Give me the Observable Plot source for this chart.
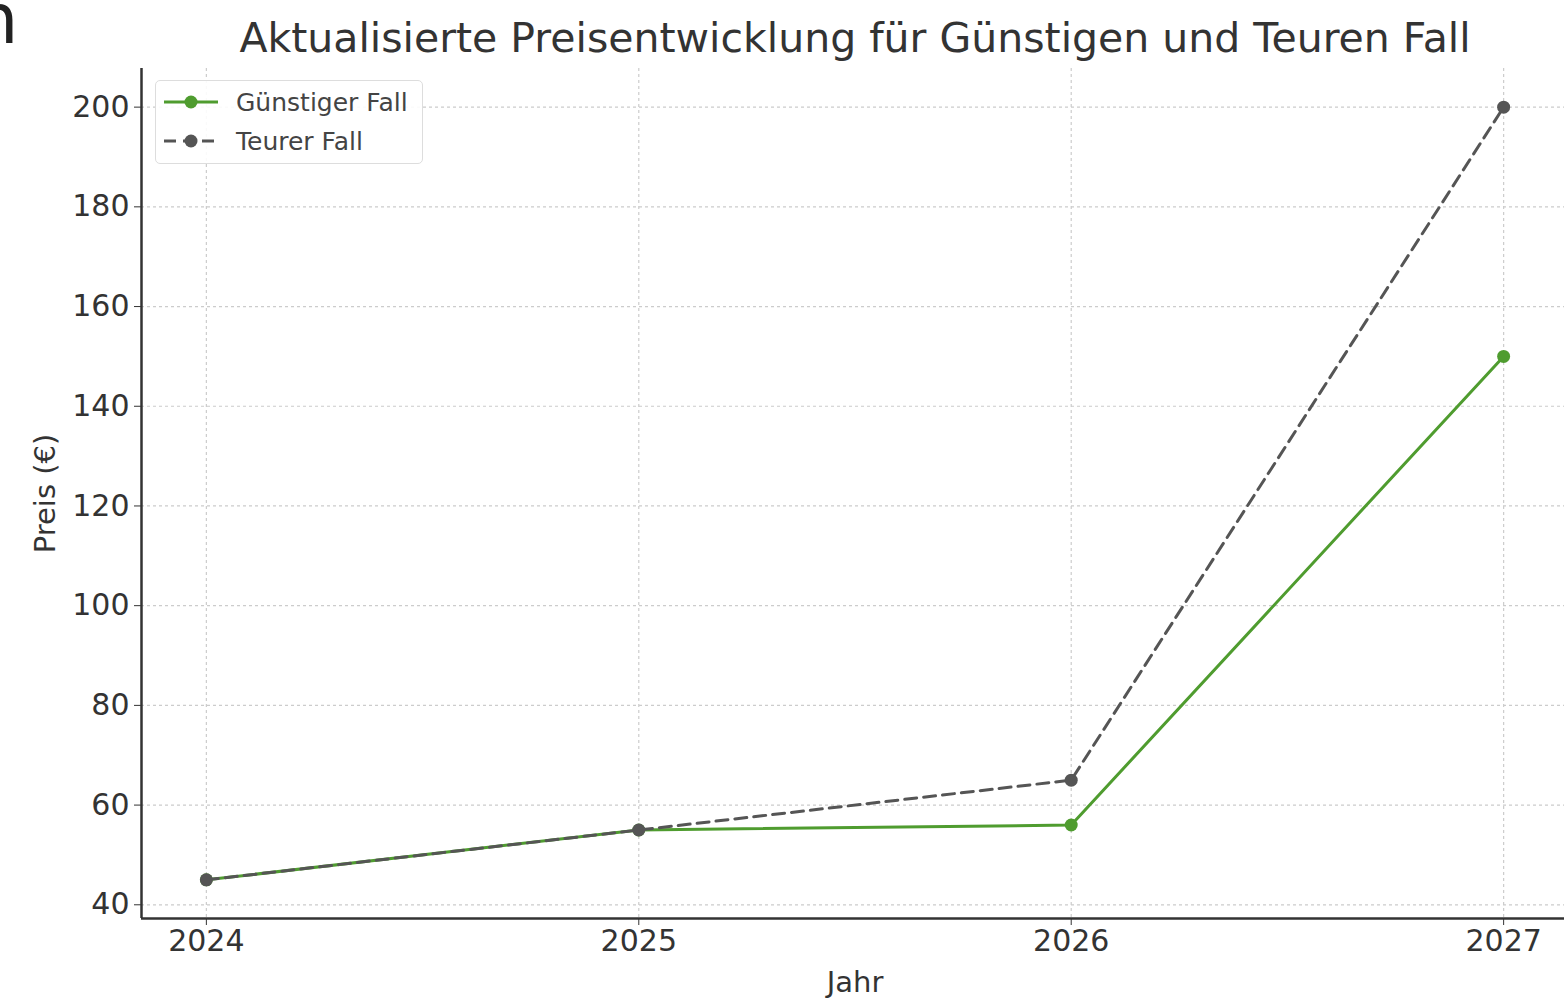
<!DOCTYPE html>
<html>
<head>
<meta charset="utf-8">
<script src="https://cdn.jsdelivr.net/npm/d3@7"></script>
<script src="https://cdn.jsdelivr.net/npm/@observablehq/plot@0.6"></script>
<style>
  html, body { margin: 0; padding: 0; background: #fff; }
  body { width: 1564px; height: 998px; overflow: hidden; position: relative; font-family: "DejaVu Sans", sans-serif; color: #333; }
  #frag { position: absolute; left: -26px; top: -16px; font-size: 70px; line-height: 1; color: #222; }
  #title { height: 60px; width: 1564px; position: relative; }
  #title span { position: absolute; left: 855px; top: 38px; transform: translate(-50%, -50%); font-size: 41px; white-space: nowrap; color: #333; }
  #legend { position: absolute; left: 155px; top: 80px; width: 268px; height: 84px; border: 1.5px solid #ddd; border-radius: 5px; background: rgba(255,255,255,0.9); box-sizing: border-box; }
  .row { position: absolute; left: 7px; height: 30px; display: flex; align-items: center; font-size: 25px; color: #444; }
  .row svg { margin-right: 17px; }
</style>
</head>
<body>
<div id="frag">n</div>
<div id="title"><span>Aktualisierte Preisentwicklung für Günstigen und Teuren Fall</span></div>
<div id="chart"></div>
<div id="legend">
  <div class="row" style="top:6px"><svg width="56" height="20"><line x1="1" y1="10" x2="55" y2="10" stroke="#4f9c2f" stroke-width="3"/><circle cx="28" cy="10" r="6.5" fill="#4f9c2f"/></svg>Günstiger Fall</div>
  <div class="row" style="top:45px"><svg width="56" height="20"><line x1="1" y1="10" x2="55" y2="10" stroke="#555" stroke-width="3" stroke-dasharray="12,7"/><circle cx="28" cy="10" r="6.5" fill="#555"/></svg>Teurer Fall</div>
</div>
<script>
const years = [2024, 2025, 2026, 2027];
const guenstig = [45, 55, 56, 150];
const teuer = [45, 55, 65, 200];
const yTicks = [40, 60, 80, 100, 120, 140, 160, 180, 200];
const xLabel = "Jahr";
const yLabel = "Preis (€)";

const green = "#4f9c2f";
const gray = "#555555";

const dataG = years.map((y, i) => ({year: y, preis: guenstig[i]}));
const dataT = years.map((y, i) => ({year: y, preis: teuer[i]}));

const xDomain = [2023.85, 2027.15];
const yDomain = [37.25, 207.75];

const chart = Plot.plot({
  width: 1564,
  height: 938,
  marginTop: 8,
  marginBottom: 80,
  marginLeft: 141,
  marginRight: -4,
  style: {fontFamily: "DejaVu Sans, sans-serif", fontSize: "30px", color: "#333", background: "transparent"},
  x: {domain: xDomain, ticks: years, tickFormat: d => String(d), tickSize: 7, tickPadding: 4, label: null},
  y: {domain: yDomain, ticks: yTicks, tickSize: 7, tickPadding: 5, label: null},
  marks: [
    Plot.ruleY(yTicks, {stroke: "#cccccc", strokeWidth: 1.2, strokeDasharray: "3,3"}),
    Plot.ruleX(years, {stroke: "#cccccc", strokeWidth: 1.2, strokeDasharray: "3,3"}),
    Plot.line(dataG, {x: "year", y: "preis", stroke: green, strokeWidth: 3}),
    Plot.dot(dataG, {x: "year", y: "preis", r: 6.5, fill: green}),
    Plot.line(dataT, {x: "year", y: "preis", stroke: gray, strokeWidth: 3, strokeDasharray: "12,7"}),
    Plot.dot(dataT, {x: "year", y: "preis", r: 6.5, fill: gray}),
    Plot.ruleX([xDomain[0]], {stroke: "#333", strokeWidth: 2.5}),
    Plot.ruleY([yDomain[0]], {stroke: "#333", strokeWidth: 2.5}),
    Plot.text([xLabel], {frameAnchor: "bottom", dy: 73, fontSize: 29, fill: "#333"}),
    Plot.text([yLabel], {frameAnchor: "left", textAnchor: "middle", dx: -96, rotate: -90, fontSize: 29, fill: "#333"})
  ]
});
document.getElementById("chart").appendChild(chart);
</script>
</body>
</html>
